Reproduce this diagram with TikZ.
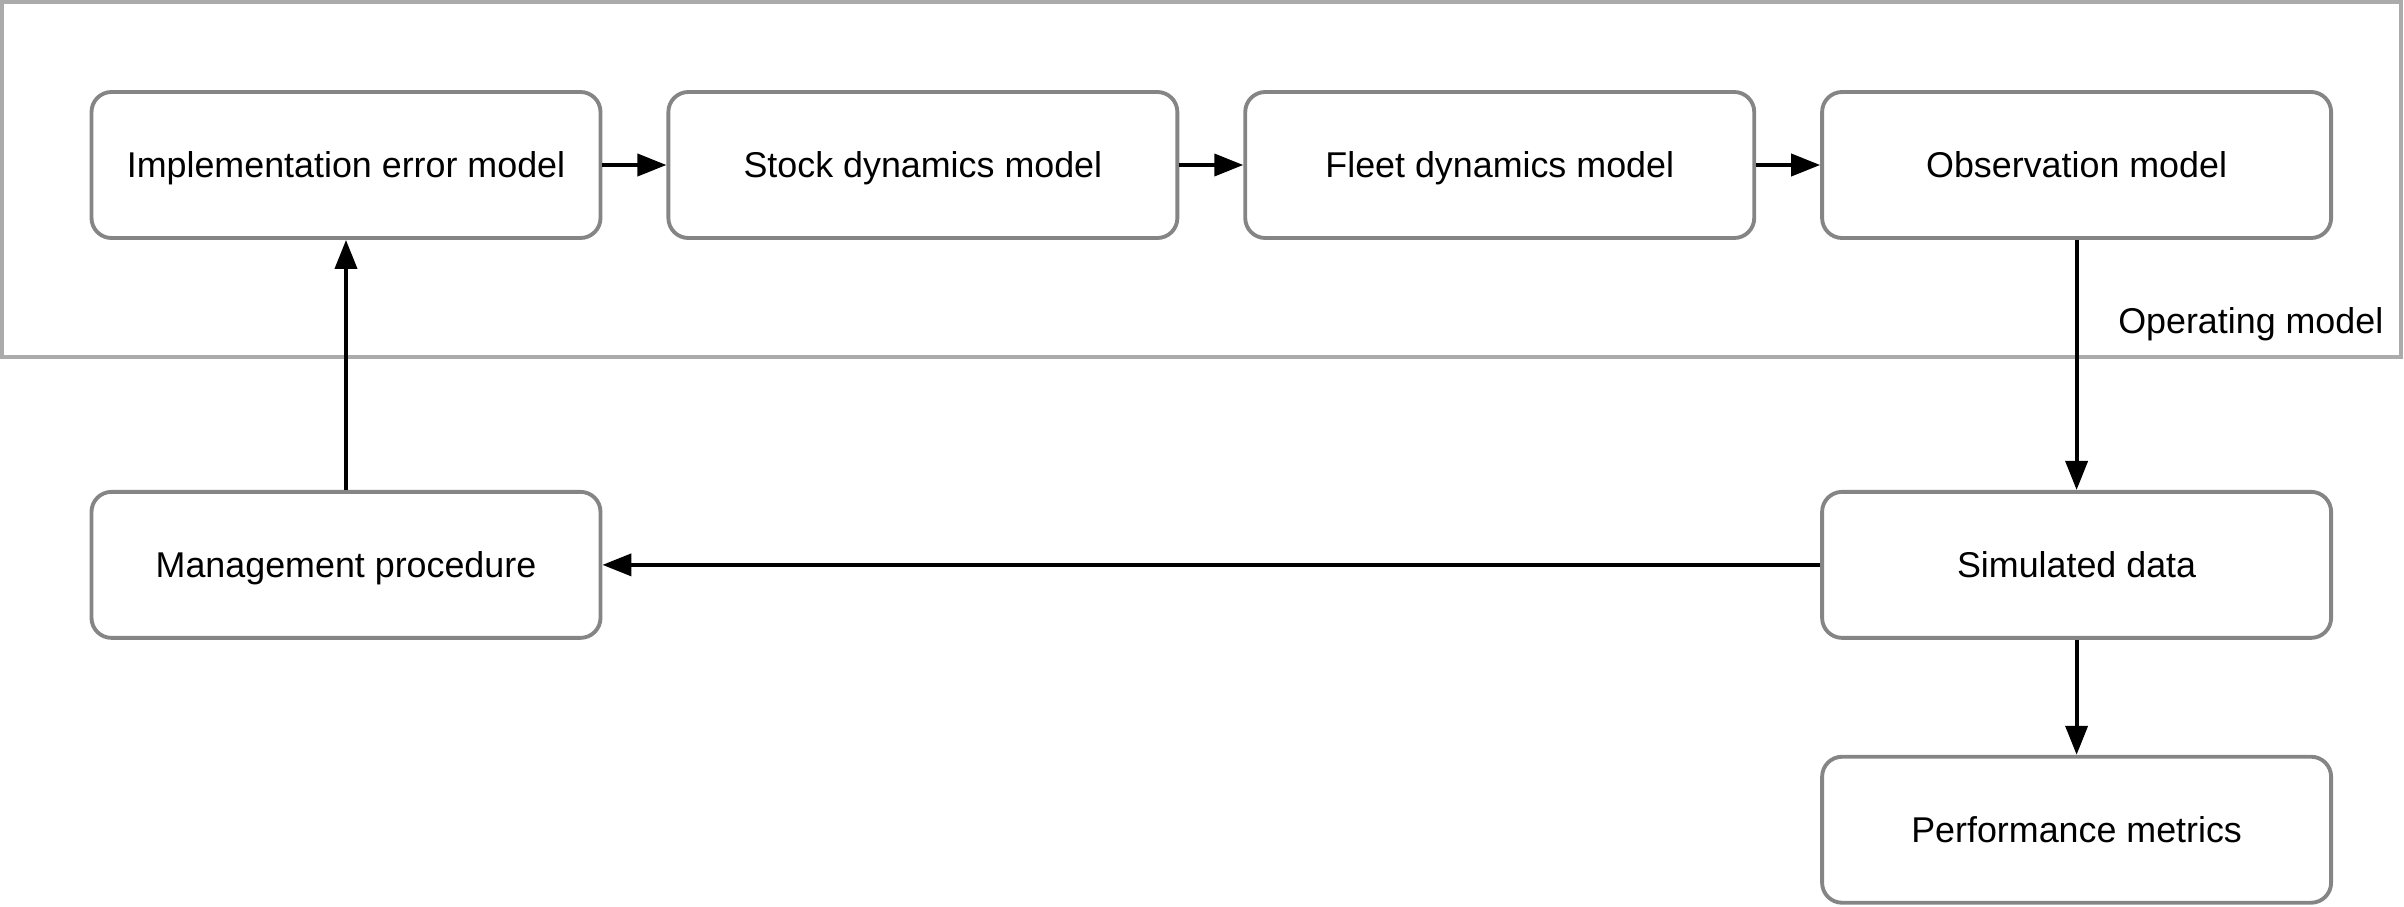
\documentclass[tikz,border=0pt]{standalone}
\usepackage{fontspec}
\setmainfont{Liberation Sans}
\usepackage{tikz}
\usetikzlibrary{positioning,arrows.meta}

\begin{document}
\begin{tikzpicture}[
    node distance=0.64cm,
    every node/.style={font=\fontsize{10.2}{12}\selectfont},
    block/.style={draw=black!48, line width=1.1pt, rounded corners=0.2cm, minimum width=5.09cm, minimum height=1.46cm, text height=0.73em, text depth=0pt, align=center},
    frame/.style={draw=black!33, line width=1.1pt},
    flow/.style={-{Triangle[length=0.29cm, width=0.22cm]}, line width=1.1pt}
]
    \useasboundingbox (0,0) rectangle (24.04,-9.06);
    \draw[frame] (0.02,-0.02) rectangle (24.01,-3.57);
    \node [anchor=base east, inner sep=0pt] (oplabel) at (23.84,-3.33) {Operating model};

    \node [block] (impl) at (3.46,-1.65) {Implementation error model};
    \node [block, right=of impl] (stock) {Stock dynamics model};
    \node [block, right=of stock] (fleet) {Fleet dynamics model};
    \node [block, right=of fleet] (obs) {Observation model};
    \node [block, below=2.5cm of obs] (sim) {Simulated data};
    \node [block, below=2.5cm of impl] (mp) {Management procedure};
    \node [block, below=1.15cm of sim] (perf) {Performance metrics};

    \draw [flow] (impl) -- (stock);
    \draw [flow] (stock) -- (fleet);
    \draw [flow] (fleet) -- (obs);
    \draw [flow] (obs) -- (sim);
    \draw [flow] (sim) -- (mp);
    \draw [flow] (mp) -- (impl);
    \draw [flow] (sim) -- (perf);
\end{tikzpicture}
\end{document}
